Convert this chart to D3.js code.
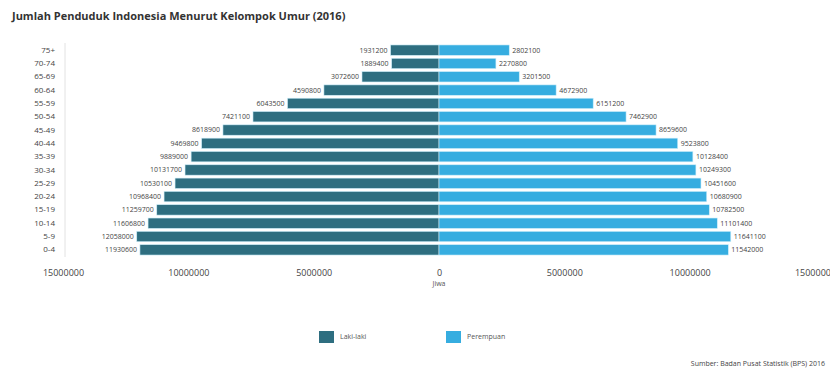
<!DOCTYPE html>
<html><head><meta charset="utf-8">
<script src="https://cdn.jsdelivr.net/npm/d3@7"></script>
<style>
html,body{margin:0;padding:0;background:#fff;}
svg{display:block;font-family:"Open Sans","DejaVu Sans",sans-serif;}
</style></head>
<body>
<svg id="c" width="830" height="371"></svg>
<script>
const ageGroups = ["75+","70-74","65-69","60-64","55-59","50-54","45-49","40-44","35-39","30-34","25-29","20-24","15-19","10-14","5-9","0-4"];
const male   = [1931200,1889400,3072600,4590800,6043500,7421100,8618900,9469800,9889000,10131700,10530100,10968400,11259700,11606800,12058000,11930600];
const female = [2802100,2270800,3201500,4672900,6151200,7462900,8659600,9523800,10128400,10249300,10451600,10680900,10782500,11101400,11641100,11542000];
const xTicks = [-15000000,-10000000,-5000000,0,5000000,10000000,15000000];
const seriesNames = ["Laki-laki","Perempuan"];
const colors = ["#2e6e80","#36ade0"];

const svg = d3.select("#c");
const x = d3.scaleLinear().domain([-15000000,15000000]).range([63,815]);
const y = d3.scaleBand().domain(ageGroups).range([43.5,256.5]).paddingInner(0.22).paddingOuter(0.11);

svg.append("text").attr("x",12).attr("y",20)
  .attr("font-size",11).attr("font-weight","bold").attr("fill","#333")
  .text("Jumlah Penduduk Indonesia Menurut Kelompok Umur (2016)");

// axis lines
svg.append("line").attr("x1",x(-15000000)+2).attr("x2",x(-15000000)+2)
  .attr("y1",43).attr("y2",257).attr("stroke","#e2e2e2");

// y axis
const yAxis = d3.axisLeft(y).tickSize(0).tickPadding(10);
const gy = svg.append("g").attr("transform","translate(65,0)").call(yAxis);
gy.select(".domain").remove();
gy.selectAll("text").attr("font-size",8).attr("fill","#444").attr("font-family","Open Sans, sans-serif");

// x axis
const xAxis = d3.axisBottom(x).tickValues(xTicks).tickSize(0).tickPadding(8)
  .tickFormat(d=>String(Math.abs(d)));
const gx = svg.append("g").attr("transform","translate(0,262)").call(xAxis);
gx.select(".domain").remove();
gx.selectAll("text").attr("font-size",9).attr("fill","#444").attr("font-family","Open Sans, sans-serif");

svg.append("text").attr("x",x(0)).attr("y",286).attr("text-anchor","middle")
  .attr("font-size",7).attr("fill","#555").text("Jiwa");

// bars
const rows = ageGroups.map((g,i)=>({g, m:male[i], f:female[i]}));
svg.append("g").selectAll("rect").data(rows).join("rect")
  .attr("x",d=>x(-d.m)).attr("width",d=>x(0)-x(-d.m))
  .attr("y",d=>y(d.g)).attr("height",y.bandwidth())
  .attr("fill",colors[0]).attr("stroke","#cdeefa").attr("stroke-width",0.6);
svg.append("g").selectAll("rect").data(rows).join("rect")
  .attr("x",x(0)).attr("width",d=>x(d.f)-x(0))
  .attr("y",d=>y(d.g)).attr("height",y.bandwidth())
  .attr("fill",colors[1]).attr("stroke","#cdeefa").attr("stroke-width",0.6);

// value labels
svg.append("g").selectAll("text").data(rows).join("text")
  .attr("x",d=>x(-d.m)-3).attr("y",d=>y(d.g)+y.bandwidth()/2)
  .attr("dy","0.35em").attr("text-anchor","end")
  .attr("font-size",7).attr("fill","#444").text(d=>d.m);
svg.append("g").selectAll("text").data(rows).join("text")
  .attr("x",d=>x(d.f)+3).attr("y",d=>y(d.g)+y.bandwidth()/2)
  .attr("dy","0.35em").attr("text-anchor","start")
  .attr("font-size",7).attr("fill","#444").text(d=>d.f);

// legend
const legX = [319,446];
seriesNames.forEach((n,i)=>{
  svg.append("rect").attr("x",legX[i]).attr("y",331).attr("width",15).attr("height",12).attr("fill",colors[i]);
  svg.append("text").attr("x",legX[i]+21).attr("y",337).attr("dy","0.35em")
    .attr("font-size",7).attr("fill","#555").text(n);
});

svg.append("text").attr("x",825).attr("y",366).attr("text-anchor","end")
  .attr("font-size",7).attr("fill","#444").text("Sumber: Badan Pusat Statistik (BPS) 2016");
</script>
</body></html>
